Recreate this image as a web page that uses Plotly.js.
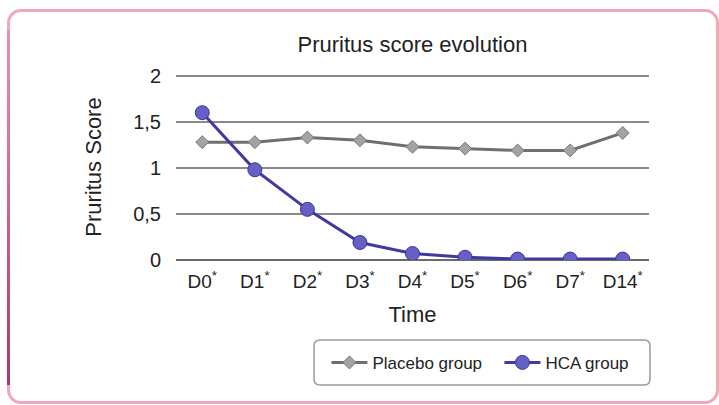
<!DOCTYPE html>
<html>
<head>
<meta charset="utf-8">
<script src="https://cdn.plot.ly/plotly-3.0.1.min.js"></script>
<style>
  html, body { margin: 0; padding: 0; background: #ffffff; }
  #wrap { position: relative; width: 719px; height: 405px; overflow: hidden; }
  #chart { position: absolute; left: 0; top: 0; width: 719px; height: 405px; }
  #frame { position: absolute; left: 7px; top: 9px; width: 712px; height: 395px;
           border: 3px solid #f0a9b8; border-radius: 14px; pointer-events: none; box-sizing: border-box; }
  #leftedge { position: absolute; left: 7px; top: 30px; width: 3px; height: 355px;
              background: linear-gradient(#eb90a6, #d05880 60%, #a8386a); pointer-events: none; }
</style>
</head>
<body>
<div id="wrap">
  <div id="chart"></div>
  <div id="frame"></div>
  <div id="leftedge"></div>
</div>
<script>
const categories = ["D0<sup>*</sup>", "D1<sup>*</sup>", "D2<sup>*</sup>", "D3<sup>*</sup>", "D4<sup>*</sup>",
                    "D5<sup>*</sup>", "D6<sup>*</sup>", "D7<sup>*</sup>", "D14<sup>*</sup>"];
const placebo = [1.28, 1.28, 1.33, 1.30, 1.23, 1.21, 1.19, 1.19, 1.38];
const hca = [1.60, 0.98, 0.55, 0.19, 0.07, 0.03, 0.01, 0.01, 0.01];
const yTickVals = [0, 0.5, 1, 1.5, 2];
const yTickText = ["0", "0,5", "1", "1,5", "2"];

const font = "Liberation Sans, Arial, Helvetica, sans-serif";

const traces = [
  {
    x: categories, y: placebo, name: "Placebo group", type: "scatter", mode: "lines+markers",
    line: { color: "#6f6f6f", width: 3 },
    marker: { symbol: "diamond", size: 10, color: "#a3a3a3", line: { color: "#7a7a7a", width: 1 } }
  },
  {
    x: categories, y: hca, name: "HCA group", type: "scatter", mode: "lines+markers",
    line: { color: "#403a9e", width: 3 },
    marker: { symbol: "circle", size: 14, color: "#6560c4", line: { color: "#3b3596", width: 1 } }
  }
];

// plot area: x 176..649, y(0)=260, y(2)=76
const layout = {
  width: 719, height: 405,
  margin: { l: 176, r: 70, t: 74, b: 145 },
  paper_bgcolor: "rgba(0,0,0,0)",
  plot_bgcolor: "rgba(0,0,0,0)",
  font: { family: font, color: "#222222", size: 16 },
  showlegend: true,
  title: { text: "Pruritus score evolution", font: { family: font, size: 22, color: "#222" },
           x: 0.5, xref: "paper", xanchor: "center", y: 1 - 44 / 405, yref: "container", yanchor: "middle" },
  xaxis: {
    type: "category", range: [-0.5, 8.5], showgrid: false, zeroline: false,
    showline: false, ticks: "", ticklabelstandoff: 8,
    tickfont: { family: font, size: 19, color: "#222" },
    title: { text: "Time", font: { family: font, size: 22, color: "#222" }, standoff: 15 }
  },
  yaxis: {
    range: [0, 2.02], tickvals: yTickVals, ticktext: yTickText,
    showgrid: true, gridcolor: "#8a8a8a", gridwidth: 2, zeroline: true, zerolinecolor: "#6a6a6a", zerolinewidth: 2,
    showline: false, ticks: "", ticklabelstandoff: 14,
    tickfont: { family: font, size: 20, color: "#222" },
    title: { text: "Pruritus Score", font: { family: font, size: 22, color: "#222" }, standoff: 25 }
  },
  legend: {
    orientation: "h", x: 0.318, xanchor: "left", y: -0.553, yanchor: "middle",
    bgcolor: "rgba(0,0,0,0)", borderwidth: 0,
    font: { family: font, size: 17, color: "#222" },
    itemwidth: 36, entrywidth: 122, entrywidthmode: "pixels"
  },
  shapes: [
    {
      type: "path", xref: "paper", yref: "paper",
      path: "M 0.3045 -0.4302 L 0.9894 -0.4302 Q 1.0021 -0.4302 1.0021 -0.4622 L 1.0021 -0.6398 Q 1.0021 -0.6720 0.9894 -0.6720 L 0.3045 -0.6720 Q 0.2918 -0.6720 0.2918 -0.6398 L 0.2918 -0.4622 Q 0.2918 -0.4302 0.3045 -0.4302 Z",
      line: { color: "#9a9a9a", width: 1.5 }, fillcolor: "rgba(0,0,0,0)"
    }
  ]
};

Plotly.newPlot("chart", traces, layout, { displayModeBar: false, staticPlot: true });
</script>
</body>
</html>
